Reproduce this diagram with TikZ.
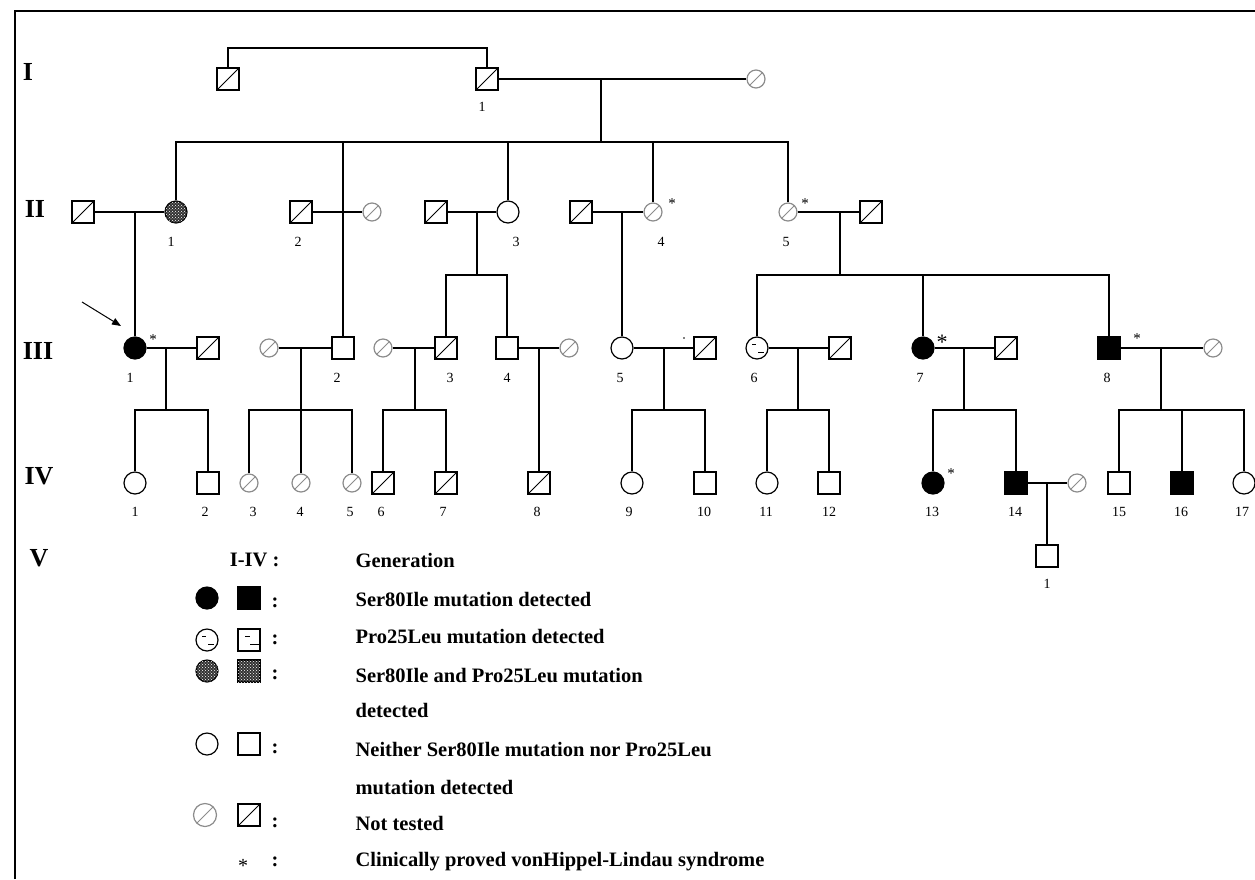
\documentclass[tikz,border=0pt]{standalone}
\usepackage{fontspec}
\setmainfont{Liberation Serif}
\usetikzlibrary{arrows.meta, patterns}

\begin{document}
\begin{tikzpicture}[x=1pt, y=-1pt, line width=1.2pt,
    male/.style={draw, rectangle, minimum size=22pt, inner sep=0pt},
    female/.style={draw, circle, minimum size=22pt, inner sep=0pt},
    ntm/.style={male, path picture={\draw[line width=1pt] (path picture bounding box.south west) -- (path picture bounding box.north east);}},
    ntf/.style={draw=black!45, circle, minimum size=18pt, inner sep=0pt, path picture={\draw[black!45, line width=1pt] (path picture bounding box.south west) -- (path picture bounding box.north east);}},
    aff/.style={fill=black},
    pro/.style={path picture={\draw[line width=1pt] (-5pt,4pt) -- (-1pt,4pt) (1pt,-4pt) -- (7pt,-4pt);}},
    prosq/.style={path picture={\draw[line width=1pt] (-4pt,4pt) -- (1pt,4pt) (1pt,-4pt) -- (11pt,-4pt);}},
    both/.style={fill=black!80, postaction={pattern=crosshatch dots, pattern color=white}},
    num/.style={font=\fontsize{14}{14}\selectfont, inner sep=0pt},
    astk/.style={font=\fontsize{15}{15}\selectfont, inner sep=0pt},
    gen/.style={font=\fontsize{26}{26}\selectfont\bfseries, inner sep=0pt},
    key/.style={font=\fontsize{20.5}{20.5}\selectfont\bfseries, inner sep=0pt, anchor=west}
  ]
    \useasboundingbox (0,0) rectangle (1255,879);
    \draw[line width=2pt] (15,879) -- (15,11) -- (1255,11);

    % generation labels
    \node[gen] (gI) at (28,72) {I};
    \node[gen] (gII) at (35,209) {II};
    \node[gen] (gIII) at (38,351) {III};
    \node[gen] (gIV) at (39,476) {IV};
    \node[gen] (gV) at (39,558) {V};

    % generation I
    \node[ntm] (ia) at (228,79) {};
    \node[ntm] (i1) at (487,79) {};
    \node[ntf] (ib) at (756,79) {};
    \coordinate (t0) at (358,48);
    \draw (ia.north) |- (t0) -| (i1.north);
    \draw (i1) -- (ib);
    \coordinate (m0) at (601,79);
    \coordinate (s0) at (601,142);

    % generation II
    \node[ntm] (iia) at (83,212) {};
    \node[female, both] (ii1) at (176,212) {};
    \node[ntm] (ii2) at (301,212) {};
    \node[ntf] (iib) at (372,212) {};
    \node[ntm] (iic) at (436,212) {};
    \node[female] (ii3) at (508,212) {};
    \node[ntm] (iid) at (581,212) {};
    \node[ntf] (ii4) at (653,212) {};
    \node[ntf] (ii5) at (788,212) {};
    \node[ntm] (iie) at (871,212) {};
    \draw (iia) -- (ii1);
    \draw (ii2) -- (iib);
    \draw (iic) -- (ii3);
    \draw (iid) -- (ii4);
    \draw (ii5) -- (iie);
    \coordinate (m1) at (135,212);
    \coordinate (m3) at (477,212);
    \coordinate (s3) at (477,275);
    \coordinate (m4) at (622,212);
    \coordinate (m5) at (840,212);
    \coordinate (s5) at (840,275);

    % generation III
    \node[female, aff] (iii1) at (135,348) {};
    \node[ntm] (iiia) at (208,348) {};
    \node[ntf] (iiib) at (269,348) {};
    \node[male] (iii2) at (343,348) {};
    \node[ntf] (iiic) at (383,348) {};
    \node[ntm] (iii3) at (446,348) {};
    \node[male] (iii4) at (507,348) {};
    \node[ntf] (iiid) at (569,348) {};
    \node[female] (iii5) at (622,348) {};
    \node[ntm] (iiie) at (705,348) {};
    \node[female, pro] (iii6) at (757,348) {};
    \node[ntm] (iiif) at (840,348) {};
    \node[female, aff] (iii7) at (923,348) {};
    \node[ntm] (iiig) at (1006,348) {};
    \node[male, aff] (iii8) at (1109,348) {};
    \node[ntf] (iiih) at (1213,348) {};
    \draw (iii1) -- (iiia);
    \draw (iiib) -- (iii2);
    \draw (iiic) -- (iii3);
    \draw (iii4) -- (iiid);
    \draw (iii5) -- (iiie);
    \draw (iii6) -- (iiif);
    \draw (iii7) -- (iiig);
    \draw (iii8) -- (iiih);

    % generation IV
    \node[female] (iv1) at (135,483) {};
    \node[male] (iv2) at (208,483) {};
    \node[ntf] (iv3) at (249,483) {};
    \node[ntf] (iv4) at (301,483) {};
    \node[ntf] (iv5) at (352,483) {};
    \node[ntm] (iv6) at (383,483) {};
    \node[ntm] (iv7) at (446,483) {};
    \node[ntm] (iv8) at (539,483) {};
    \node[female] (iv9) at (632,483) {};
    \node[male] (iv10) at (705,483) {};
    \node[female] (iv11) at (767,483) {};
    \node[male] (iv12) at (829,483) {};
    \node[female, aff] (iv13) at (933,483) {};
    \node[male, aff] (iv14) at (1016,483) {};
    \node[ntf] (iva) at (1077,483) {};
    \node[male] (iv15) at (1119,483) {};
    \node[male, aff] (iv16) at (1182,483) {};
    \node[female] (iv17) at (1244,483) {};
    \draw (iv14) -- (iva);

    % generation V
    \node[male] (v1) at (1047,556) {};

    % descent lines
    \draw (m0) -- (s0);
    \draw (ii1.north) |- (s0) -| (ii5.north);
    \draw (s0) -| (iii2.north);
    \draw (s0) -| (ii3.north);
    \draw (s0) -| (ii4.north);
    \draw (m1) -- (iii1.north);
    \draw (m3) -- (s3);
    \draw (iii3.north) |- (s3) -| (iii4.north);
    \draw (m4) -- (iii5.north);
    \draw (m5) -- (s5);
    \draw (iii6.north) |- (s5) -| (iii8.north);
    \draw (s5) -| (iii7.north);

    \coordinate (m31) at (166,348);  \coordinate (s31) at (166,410);
    \coordinate (m32) at (301,348);  \coordinate (s32) at (301,410);
    \coordinate (m33) at (415,348);  \coordinate (s33) at (415,410);
    \coordinate (m34) at (539,348);
    \coordinate (m35) at (664,348);  \coordinate (s35) at (664,410);
    \coordinate (m36) at (798,348);  \coordinate (s36) at (798,410);
    \coordinate (m37) at (964,348);  \coordinate (s37) at (964,410);
    \coordinate (m38) at (1161,348); \coordinate (s38) at (1161,410);
    \coordinate (m41) at (1047,483);
    \draw (m31) -- (s31);  \draw (iv1.north) |- (s31) -| (iv2.north);
    \draw (m32) -- (iv4.north);  \draw (iv3.north) |- (s32) -| (iv5.north);
    \draw (m33) -- (s33);  \draw (iv6.north) |- (s33) -| (iv7.north);
    \draw (m34) -- (iv8.north);
    \draw (m35) -- (s35);  \draw (iv9.north) |- (s35) -| (iv10.north);
    \draw (m36) -- (s36);  \draw (iv11.north) |- (s36) -| (iv12.north);
    \draw (m37) -- (s37);  \draw (iv13.north) |- (s37) -| (iv14.north);
    \draw (m38) -- (s38);  \draw (iv15.north) |- (s38) -| (iv17.north);
    \draw (s38) -| (iv16.north);
    \draw (m41) -- (v1.north);

    % proband arrow
    \coordinate (pa) at (82,302);
    \coordinate (pb) at (121,326);
    \draw[line width=1pt, -{Triangle[length=9pt, width=7pt]}] (pa) -- (pb);
    \fill (684,338) circle (0.9pt);

    % clinically affected
    \node[astk] (c1) at (153,340) {*};
    \node[astk] (c2) at (672,204) {*};
    \node[astk] (c3) at (805,204) {*};
    \node[astk, font=\fontsize{22}{22}\selectfont] (c4) at (942,342) {*};
    \node[astk] (c5) at (1137,339) {*};
    \node[astk] (c6) at (951,474) {*};

    % numbers
    \node[num] (n1-1) at (482,107) {1};
    \foreach \n/\x in {1/171, 2/298, 3/516, 4/661, 5/786}
      \node[num] (n2-\n) at (\x,242) {\n};
    \foreach \n/\x in {1/130, 2/337, 3/450, 4/507, 5/620, 6/754, 7/920, 8/1107}
      \node[num] (n3-\n) at (\x,378) {\n};
    \foreach \n/\x in {1/135, 2/205, 3/253, 4/300, 5/350, 6/381, 7/443, 8/537, 9/629, 10/704, 11/766, 12/829, 13/932, 14/1015, 15/1119, 16/1181, 17/1242}
      \node[num] (n4-\n) at (\x,512) {\n};
    \node[num] (n5-1) at (1047,584) {1};

    % key
    \node[key, anchor=east] (kg) at (280,560) {I-IV :};
    \node[female, aff] (kf1) at (207,598) {};
    \node[male, aff] (km1) at (249,598) {};
    \node[female, pro] (kf2) at (207,640) {};
    \node[male, prosq] (km2) at (249,640) {};
    \node[female, both] (kf3) at (207,671) {};
    \node[male, both] (km3) at (249,671) {};
    \node[female] (kf4) at (207,744) {};
    \node[male] (km4) at (249,744) {};
    \node[ntf, minimum size=23pt] (kf5) at (205,815) {};
    \node[ntm] (km5) at (249,815) {};
    \node[astk, font=\fontsize{20}{20}\selectfont] (k6) at (243,866) {*};
    \foreach \y [count=\i] in {603, 640, 675, 749, 823, 862}
      \node[key, anchor=center] (kc\i) at (275,\y) {:};
    \node[key] (t1) at (355,560) {Generation};
    \node[key] (t2) at (355,600) {Ser80Ile mutation detected};
    \node[key] (t3) at (355,637) {Pro25Leu mutation detected};
    \node[key] (t4) at (355,675) {Ser80Ile and Pro25Leu mutation};
    \node[key] (t4b) at (355,710) {detected};
    \node[key] (t5) at (355,749) {Neither Ser80Ile mutation nor Pro25Leu};
    \node[key] (t5b) at (355,787) {mutation detected};
    \node[key] (t6) at (355,823) {Not tested};
    \node[key] (t7) at (355,862) {Clinically proved vonHippel-Lindau syndrome};
  \end{tikzpicture}
\end{document}
